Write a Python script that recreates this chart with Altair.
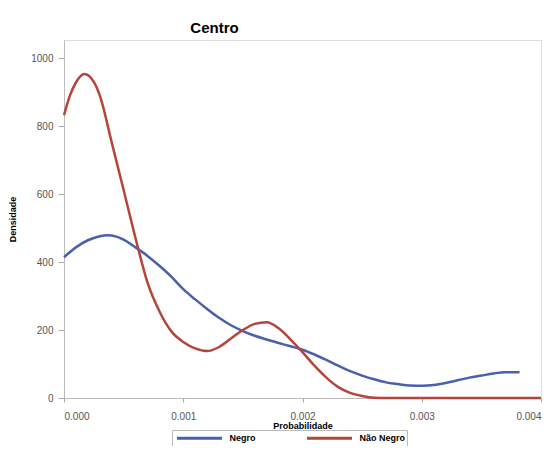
import altair as alt
import pandas as pd

negro_x = [0, 0.0001, 0.0002, 0.0003, 0.00036, 0.0004, 0.0005, 0.0006, 0.0007, 0.0008, 0.0009,
           0.0010, 0.0011, 0.0012, 0.0013, 0.0014, 0.0015, 0.0016, 0.0017, 0.0018, 0.0019,
           0.0020, 0.0021, 0.0022, 0.0023, 0.0024, 0.0025, 0.0026, 0.0027, 0.0028, 0.0029,
           0.0030, 0.0031, 0.0032, 0.0033, 0.0034, 0.0035, 0.0036, 0.0037, 0.00382]
negro_y = [414, 443, 464, 476, 479, 478, 466, 443, 418, 389, 357,
           320, 290, 262, 236, 214, 197, 183, 172, 162, 152,
           142, 128, 112, 95, 79, 66, 55, 46, 41, 37,
           36, 38, 44, 52, 60, 66, 72, 76, 76]

nao_x = [0, 0.00005, 0.0001, 0.00017, 0.00025, 0.0003, 0.0004, 0.0005, 0.0006, 0.0007,
         0.0008, 0.0009, 0.0010, 0.0011, 0.0012, 0.0013, 0.0014, 0.0015, 0.0016, 0.0017,
         0.0018, 0.0019, 0.0020, 0.0021, 0.0022, 0.0023, 0.0024, 0.0025, 0.0026, 0.0027, 0.0040]
nao_y = [832, 890, 928, 953, 930, 890, 752, 612, 470, 340,
         255, 196, 165, 146, 138, 150, 175, 200, 218, 223,
         205, 172, 135, 95, 60, 32, 15, 6, 1, 0, 0]

series = ["Negro", "Não Negro"]
colors = ["#4a5fae", "#b3453a"]

df = pd.concat([
    pd.DataFrame({"x": negro_x, "y": negro_y, "g": "Negro", "o": range(len(negro_x))}),
    pd.DataFrame({"x": nao_x, "y": nao_y, "g": "Não Negro", "o": range(len(nao_x))}),
])

chart = alt.Chart(df).mark_line(strokeWidth=2.5, interpolate="monotone").encode(
    x=alt.X("x:Q", title="Probabilidade",
            scale=alt.Scale(domain=[0, 0.004], nice=False),
            axis=alt.Axis(values=[0, 0.001, 0.002, 0.003, 0.004], format=".3f", grid=False,
                          titleFontWeight="bold", titleFontSize=9, titlePadding=0,
                          labelFontSize=10, labelColor="#555", tickColor="#aaa", tickSize=4,
                          domainColor="#bbb", labelPadding=9)),
    y=alt.Y("y:Q", title="Densidade",
            scale=alt.Scale(domain=[0, 1053], nice=False),
            axis=alt.Axis(values=[0, 200, 400, 600, 800, 1000], format="d", grid=False,
                          titleFontWeight="bold", titleFontSize=9, titlePadding=13,
                          labelFontSize=10, labelColor="#555", tickColor="#aaa", tickSize=6,
                          domainColor="#bbb", labelPadding=5)),
    color=alt.Color("g:N", scale=alt.Scale(domain=series, range=colors),
                    legend=alt.Legend(title=None, orient="none", direction="horizontal",
                                      legendX=108, legendY=390,
                                      symbolType="M-4.5,0H4.5", symbolSize=100,
                                      symbolStrokeWidth=3, symbolOffset=19.5,
                                      labelOffset=23.5, labelFontSize=9,
                                      labelFontWeight="bold", columnPadding=44,
                                      strokeColor="#bbb", padding=1.5, labelLimit=200)),
    order="o:Q",
).properties(
    width=477, height=358,
    autosize=alt.AutoSizeParams(type="none"),
    padding={"left": 56, "top": 32, "right": 2, "bottom": 48},
    title=alt.TitleParams("Centro", fontSize=15, fontWeight="bold", dx=-88, offset=4),
).configure_view(stroke="#ccc").configure(font="Liberation Sans")

chart.save("out.html", embed_options={"renderer": "svg", "actions": False})
